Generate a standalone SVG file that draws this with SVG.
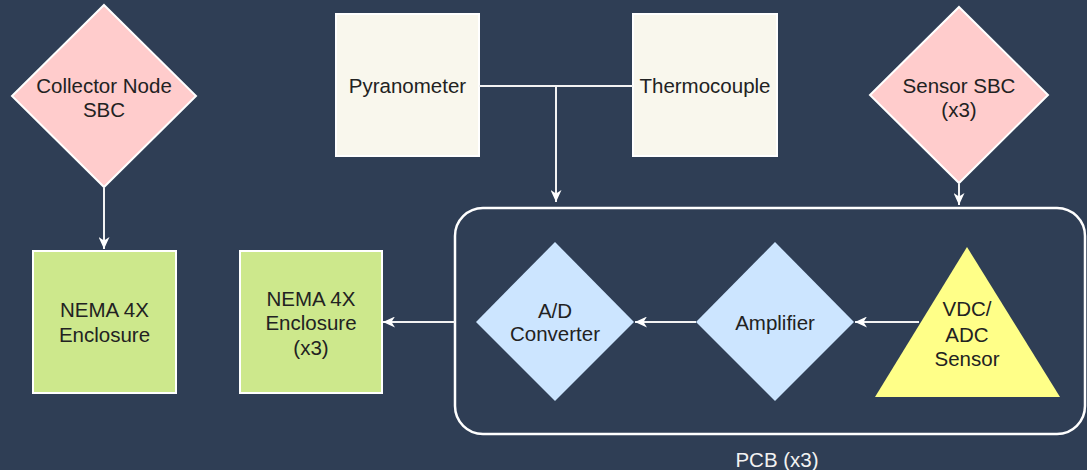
<svg xmlns="http://www.w3.org/2000/svg" width="1087" height="470" viewBox="0 0 1087 470">
<defs>
<marker id="arr" markerUnits="userSpaceOnUse" markerWidth="12" markerHeight="11" viewBox="0 0 12 11" refX="12" refY="5.5" orient="auto">
<path d="M0,0 L12,5.5 L0,11 L3.5,5.5 Z" fill="#FFFFFF"/>
</marker>
</defs>
<style>
.bg{fill:#2F3E55}
.n{stroke:#FFFFFF;stroke-width:2}
.pink{fill:#FFCCCC}
.green{fill:#CDE88C}
.cream{fill:#F9F7ED}
.blue{fill:#CCE5FF;stroke:none}
.yellow{fill:#FFFF88;stroke:none}
.t{font-family:"Liberation Sans",Arial,sans-serif;font-size:20.5px;fill:#222222;text-anchor:middle}
.lt{fill:#F2F2F2}
.c{fill:none;stroke:#F2F2F2;stroke-width:2;marker-end:url(#arr)}
.c2{fill:none;stroke:#F2F2F2;stroke-width:2}
</style>
<rect class="bg" x="0" y="0" width="1087" height="470"/>

<g id="pcb">
<rect x="455" y="208" width="630" height="226" rx="28" ry="28" fill="none" stroke="#FFFFFF" stroke-width="2.5"/>
<text class="t lt" x="777" y="467">PCB (x3)</text>
</g>

<g id="collector-sbc">
<polygon class="n pink" points="104,5 196,96 104,187 12,96"/>
<text class="t" x="104" y="93">Collector Node</text>
<text class="t" x="104" y="117">SBC</text>
</g>

<g id="pyranometer">
<rect class="n cream" x="336" y="14" width="143" height="142"/>
<text class="t" x="407.5" y="93">Pyranometer</text>
</g>

<g id="thermocouple">
<rect class="n cream" x="633" y="14" width="144" height="142"/>
<text class="t" x="705" y="93">Thermocouple</text>
</g>

<g id="sensor-sbc">
<polygon class="n pink" points="959,7 1048,95 959,183 870,95"/>
<text class="t" x="959" y="93">Sensor SBC</text>
<text class="t" x="959" y="117">(x3)</text>
</g>

<g id="nema1">
<rect class="n green" x="33" y="251" width="143" height="142"/>
<text class="t" x="104.5" y="317">NEMA 4X</text>
<text class="t" x="104.5" y="342">Enclosure</text>
</g>

<g id="nema2">
<rect class="n green" x="240" y="251" width="142" height="142"/>
<text class="t" x="311" y="306">NEMA 4X</text>
<text class="t" x="311" y="330">Enclosure</text>
<text class="t" x="311" y="355">(x3)</text>
</g>

<g id="ad-converter">
<polygon class="blue" points="555,242 634,322 555,401 476,322"/>
<text class="t" x="555" y="318">A/D</text>
<text class="t" x="555" y="341">Converter</text>
</g>

<g id="amplifier">
<polygon class="blue" points="775,242 854,322 775,401 696,322"/>
<text class="t" x="775" y="330">Amplifier</text>
</g>

<g id="vdc-sensor">
<polygon class="yellow" points="967,247 1060,397 875,397"/>
<text class="t" x="967" y="316">VDC/</text>
<text class="t" x="967" y="342">ADC</text>
<text class="t" x="967" y="366">Sensor</text>
</g>

<g id="connectors">
<path class="c" d="M104,188 V249"/>
<path class="c2" d="M479,86 H633"/>
<path class="c" d="M556,86 V202"/>
<path class="c" d="M959,184 V205"/>
<path class="c" d="M455,322 H383"/>
<path class="c" d="M919,322 H855"/>
<path class="c" d="M696,322 H635"/>
</g>
</svg>
